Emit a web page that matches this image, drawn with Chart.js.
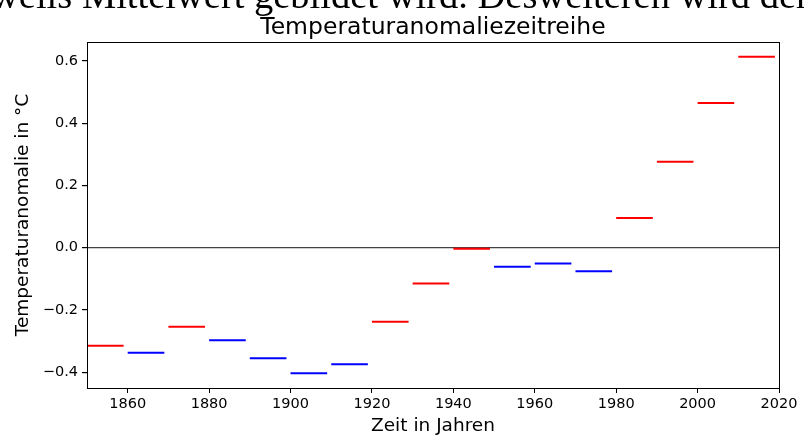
<!DOCTYPE html>
<html>
<head>
<meta charset="utf-8">
<script src="https://cdn.jsdelivr.net/npm/chart.js@4/dist/chart.umd.min.js"></script>
<style>
  html, body { margin: 0; padding: 0; background: #fff; }
  #wrap { width: 804px; height: 437px; position: relative; }
</style>
</head>
<body>
<div id="wrap"><canvas id="c" width="804" height="437"></canvas></div>
<script>
// ---- data ----
const decadeStarts = [1850, 1860, 1870, 1880, 1890, 1900, 1910, 1920, 1930, 1940, 1950, 1960, 1970, 1980, 1990, 2000, 2010];
const anomalies    = [-0.315, -0.337, -0.254, -0.297, -0.355, -0.403, -0.374, -0.238, -0.115, -0.003, -0.061, -0.051, -0.076, 0.095, 0.276, 0.465, 0.613];
const segmentColors = ['red', 'blue', 'red', 'blue', 'blue', 'blue', 'blue', 'red', 'red', 'red', 'blue', 'blue', 'blue', 'red', 'red', 'red', 'red'];
const segmentSpan = 9;
const xTickLabels = [1860, 1880, 1900, 1920, 1940, 1960, 1980, 2000, 2020];
const yTickValues = [-0.4, -0.2, 0.0, 0.2, 0.4, 0.6];
const xRange = [1850, 2020];
const yRange = [-0.4505, 0.6605];
const titleText = 'Temperaturanomaliezeitreihe';
const xLabel = 'Zeit in Jahren';
const yLabel = 'Temperaturanomalie in °C';
const headerHidden = 'je';
const headerText = 'weils Mittelwert gebildet wird. Desweiteren wird der';

const datasets = decadeStarts.map((d, i) => ({
  data: [{ x: d, y: anomalies[i] }, { x: d + segmentSpan, y: anomalies[i] }],
  borderColor: segmentColors[i],
  backgroundColor: segmentColors[i],
  borderWidth: 2,
  borderCapStyle: 'butt',
  pointRadius: 0,
  showLine: true,
  fill: false
}));

const fmt = v => {
  const s = Math.abs(v).toFixed(1);
  return v < -1e-9 ? '\u2212' + s : s;
};

const pagePlugin = {
  id: 'page',
  beforeDraw(chart) {
    const ctx = chart.ctx;
    ctx.save();
    ctx.fillStyle = '#fff';
    ctx.fillRect(0, 0, chart.width, chart.height);
    ctx.font = '38.5px "Liberation Serif", "Times New Roman", serif';
    ctx.fillStyle = '#000';
    ctx.textBaseline = 'alphabetic';
    ctx.textAlign = 'left';
    const pre = ctx.measureText(headerHidden).width;
    ctx.fillText(headerHidden + headerText, -9 - pre, 8);
    // axes title, centred over the plot area like matplotlib
    const a = chart.chartArea;
    ctx.font = '23.5px "DejaVu Sans"';
    ctx.textAlign = 'center';
    ctx.fillStyle = '#000';
    ctx.fillText(titleText, (a.left + a.right) / 2, 34);
    ctx.restore();
  },
  afterDatasetsDraw(chart) {
    const a = chart.chartArea;
    const ctx = chart.ctx;
    ctx.save();
    ctx.strokeStyle = '#000';
    ctx.lineWidth = 1;
    ctx.strokeRect(Math.round(a.left) + 0.5, Math.round(a.top) + 0.5,
                   Math.round(a.right - a.left), Math.round(a.bottom - a.top));
    ctx.restore();
  }
};

const tickFont = { family: 'DejaVu Sans', size: 14.5 };
const labelFont = { family: 'DejaVu Sans', size: 18.5 };

new Chart(document.getElementById('c'), {
  type: 'scatter',
  data: { datasets },
  options: {
    responsive: false,
    animation: false,
    devicePixelRatio: 1,
    layout: { padding: { left: 0, right: 25, top: 42, bottom: 0 } },
    plugins: {
      legend: { display: false },
      tooltip: { enabled: false },
      title: { display: false }
    },
    scales: {
      x: {
        type: 'linear',
        min: xRange[0],
        max: xRange[1],
        afterBuildTicks: s => { s.ticks = xTickLabels.map(v => ({ value: v })); },
        afterFit: s => { s.height = 49; },
        ticks: { color: '#000', font: tickFont, padding: 3, maxRotation: 0, autoSkip: false, callback: v => String(v) },
        grid: { drawOnChartArea: false, drawTicks: true, tickLength: 5, tickColor: '#000', color: '#000' },
        border: { display: false },
        title: { display: true, text: xLabel, color: '#000', font: labelFont, padding: { top: 0, bottom: 0 } }
      },
      y: {
        type: 'linear',
        min: yRange[0],
        max: yRange[1],
        afterBuildTicks: s => { s.ticks = yTickValues.map(v => ({ value: v })); },
        afterFit: s => { s.width = 87; },
        ticks: { color: '#000', font: tickFont, padding: 4, autoSkip: false, callback: v => fmt(v) },
        grid: {
          drawOnChartArea: true,
          drawTicks: true,
          tickLength: 5,
          tickColor: '#000',
          lineWidth: 1.2,
          color: c => (c.tick && Math.abs(c.tick.value) < 1e-9) ? '#444' : 'rgba(0,0,0,0)'
        },
        border: { display: false },
        title: { display: true, text: yLabel, color: '#000', font: labelFont, padding: { top: 12, bottom: 0 } }
      }
    }
  },
  plugins: [pagePlugin]
});
</script>
</body>
</html>
